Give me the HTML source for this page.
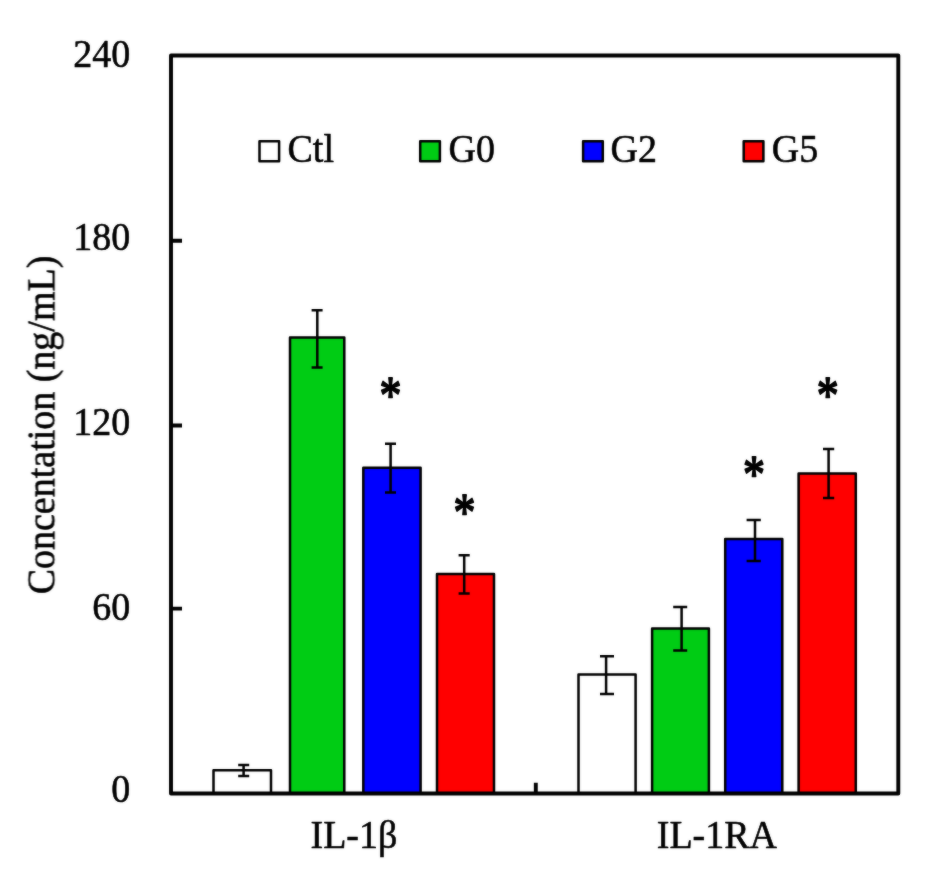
<!DOCTYPE html>
<html lang="en">
<head>
<meta charset="utf-8">
<title>IL-1β / IL-1RA concentration chart</title>
<style>
  html, body { margin: 0; padding: 0; background: #ffffff; }
  body { width: 935px; height: 880px; overflow: hidden; }
  svg { display: block; }
  text { font-family: "Liberation Serif", "Times New Roman", Times, serif; fill: #000; }
  .t { font-size: 38px; stroke: #000; stroke-width: 0.55; stroke-linejoin: round; }
  .star { font-size: 44px; stroke: #000; stroke-width: 1.5; stroke-linejoin: round; }
  .bar { stroke: #000; stroke-width: 2.5; stroke-linejoin: round; }
  .err { stroke: #000; stroke-width: 2.5; fill: none; stroke-linecap: butt; }
  .ax { stroke: #000; stroke-width: 3.9; fill: none; stroke-linejoin: round; stroke-linecap: butt; }
</style>
</head>
<body>
<svg id="chart" width="935" height="880" viewBox="0 0 935 880">
  <defs>
    <filter id="soft" x="0" y="0" width="935" height="880" filterUnits="userSpaceOnUse" color-interpolation-filters="sRGB">
      <feGaussianBlur in="SourceGraphic" stdDeviation="0.8" result="b"/>
      <feComposite in="SourceGraphic" in2="b" operator="arithmetic" k1="0" k2="0.65" k3="0.35" k4="0"/>
    </filter>
  </defs>
  <rect x="0" y="0" width="935" height="880" fill="#ffffff"/>
  <g filter="url(#soft)">

  <!-- bars: left group (IL-1β) -->
  <rect class="bar" x="213.5" y="770.2" width="57.5" height="23.3" fill="#ffffff"/>
  <rect class="bar" x="290" y="337.6" width="54.3" height="455.9" fill="#00cc14"/>
  <rect class="bar" x="363.3" y="467.8" width="57.3" height="325.7" fill="#0000ff"/>
  <rect class="bar" x="437" y="574.1" width="57" height="219.4" fill="#ff0000"/>

  <!-- bars: right group (IL-1RA) -->
  <rect class="bar" x="578.5" y="674.6" width="57.1" height="118.9" fill="#ffffff"/>
  <rect class="bar" x="652.1" y="628.5" width="56.8" height="165" fill="#00cc14"/>
  <rect class="bar" x="725.2" y="539" width="57.1" height="254.5" fill="#0000ff"/>
  <rect class="bar" x="798.6" y="473.4" width="57.2" height="320.1" fill="#ff0000"/>

  <!-- error bars -->
  <path class="err" d="M243.6 764.9V775.9M238.2 764.9H249.2M238.2 775.9H249.2"/>
  <path class="err" d="M317.3 310.3V367.4M311.6 310.3H322.6M311.6 367.4H322.6"/>
  <path class="err" d="M390.6 443.7V492.6M385 443.7H396M385 492.6H396"/>
  <path class="err" d="M464.2 555.2V593.5M458.6 555.2H469.7M458.6 593.5H469.7"/>
  <path class="err" d="M606.1 656.3V693.9M600 656.3H614M600 693.9H614"/>
  <path class="err" d="M681.6 606.9V650.4M673.2 606.9H687.2M673.2 650.4H687.2"/>
  <path class="err" d="M755 520V560.9M746.6 520H760.8M746.6 560.9H760.8"/>
  <path class="err" d="M828.6 449V498.1M823 449H834.2M823 498.1H834.2"/>

  <!-- plot frame + ticks -->
  <rect class="ax" x="171" y="55.5" width="727.3" height="738"/>
  <path class="ax" d="M171 240.7H182M171 425.5H182M171 608.6H182M535.8 793.5V782.7"/>

  <!-- y tick labels -->
  <text class="t" transform="translate(130.2 67.1) scale(1 1.03)" text-anchor="end">240</text>
  <text class="t" transform="translate(130.2 250.2) scale(1 1.03)" text-anchor="end">180</text>
  <text class="t" transform="translate(130.2 435.1) scale(1 1.03)" text-anchor="end">120</text>
  <text class="t" transform="translate(130.2 620) scale(1 1.03)" text-anchor="end">60</text>
  <text class="t" transform="translate(130.2 802.2) scale(1 1.03)" text-anchor="end">0</text>

  <!-- y axis title -->
  <text class="t" transform="translate(54.5 425) rotate(-90) scale(1 1.03)" text-anchor="middle">Concentation (ng/mL)</text>

  <!-- legend -->
  <rect class="bar" x="259.5" y="141.3" width="19.6" height="20" fill="#ffffff"/>
  <text class="t" transform="translate(287.5 162.3) scale(1 1.03)">Ctl</text>
  <rect class="bar" x="420.2" y="141.3" width="19.7" height="20" fill="#00cc14"/>
  <text class="t" transform="translate(448.5 162.3) scale(1 1.03)">G0</text>
  <rect class="bar" x="583.1" y="141.3" width="19.7" height="20" fill="#0000ff"/>
  <text class="t" transform="translate(610.6 162.3) scale(1 1.03)">G2</text>
  <rect class="bar" x="743.7" y="141.3" width="19.7" height="20" fill="#ff0000"/>
  <text class="t" transform="translate(771.7 162.3) scale(1 1.03)">G5</text>

  <!-- significance stars -->
  <text class="star" transform="translate(390.5 412.9) scale(1 1.2)" text-anchor="middle">*</text>
  <text class="star" transform="translate(464.6 529.9) scale(1 1.2)" text-anchor="middle">*</text>
  <text class="star" transform="translate(754 491.9) scale(1 1.2)" text-anchor="middle">*</text>
  <text class="star" transform="translate(827.8 412.9) scale(1 1.2)" text-anchor="middle">*</text>

  <!-- category labels -->
  <text class="t" transform="translate(353.9 848.1) scale(1 1.03)" text-anchor="middle">IL-1β</text>
  <text class="t" transform="translate(716.9 848.1) scale(1 1.03)" text-anchor="middle">IL-1RA</text>
  </g>
</svg>
</body>
</html>
